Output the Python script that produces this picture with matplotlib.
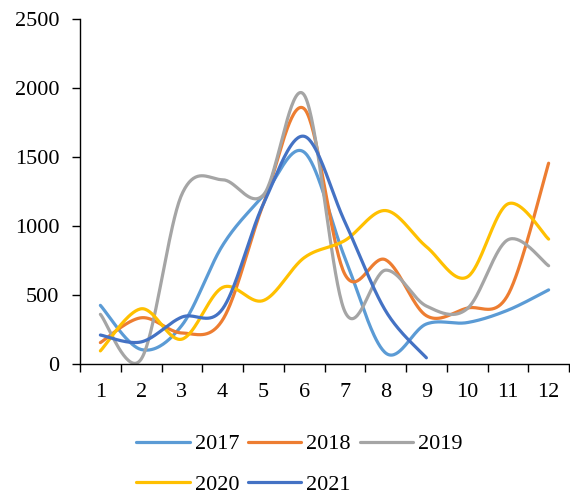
import numpy as np
import matplotlib
matplotlib.use("Agg")
from matplotlib import pyplot as plt

months = list(range(1, 13))

y2017 = [425, 105, 280, 860, 1220, 1535, 770, 80, 290, 300, 390, 537]
y2018 = [155, 335, 225, 320, 1160, 1850, 650, 755, 350, 405, 500, 1455]
y2019 = [360, 35, 1230, 1335, 1225, 1950, 380, 680, 420, 400, 900, 712]
y2020 = [95, 400, 180, 555, 460, 770, 895, 1112, 850, 630, 1160, 905]
y2021 = [210, 160, 340, 400, 1160, 1650, 1030, 385, 45]

series = [("2017", y2017, "#5B9BD5"),
          ("2018", y2018, "#ED7D31"),
          ("2019", y2019, "#A5A5A5"),
          ("2020", y2020, "#FFC000"),
          ("2021", y2021, "#4472C4")]


# smoothed line like a spreadsheet chart (cubic bezier, catmull-rom controls)
def smooth(xs, ys, n=40):
    xs = np.asarray(xs, float)
    ys = np.asarray(ys, float)
    px = np.concatenate([[xs[0]], xs, [xs[-1]]])
    py = np.concatenate([[ys[0]], ys, [ys[-1]]])
    t = np.linspace(0, 1, n)
    outx, outy = [], []
    for i in range(1, len(xs)):
        x0, x1, x2, x3 = px[i - 1], px[i], px[i + 1], px[i + 2]
        y0, y1, y2, y3 = py[i - 1], py[i], py[i + 1], py[i + 2]
        cx1, cy1 = x1 + (x2 - x0) / 6, y1 + (y2 - y0) / 6
        cx2, cy2 = x2 - (x3 - x1) / 6, y2 - (y3 - y1) / 6
        b0 = (1 - t) ** 3
        b1 = 3 * (1 - t) ** 2 * t
        b2 = 3 * (1 - t) * t ** 2
        b3 = t ** 3
        outx.append(b0 * x1 + b1 * cx1 + b2 * cx2 + b3 * x2)
        outy.append(b0 * y1 + b1 * cy1 + b2 * cy2 + b3 * y2)
    return np.concatenate(outx), np.concatenate(outy)


plt.rcParams["font.family"] = ["Liberation Serif", "DejaVu Serif"]
plt.rcParams["font.size"] = 16

fig = plt.figure(figsize=(5.7, 4.95), dpi=100)
ax = fig.add_axes([80 / 570, 131 / 495, 489 / 570, 345 / 495])

lines = {}
for name, ys, color in series:
    sx, sy = smooth(months[:len(ys)], ys)
    lines[name], = ax.plot(sx, sy, color=color, lw=2.3, label=name,
                           solid_capstyle="round")

ax.set_xlim(0.5, 12.5)
ax.set_ylim(0, 2500)
ax.set_yticks([0, 500, 1000, 1500, 2000, 2500])
ax.set_xticks(months)
ax.set_xticks(np.arange(0.5, 13, 1), minor=True)
ax.tick_params(axis="x", which="major", length=0, pad=14)
ax.tick_params(axis="x", which="minor", length=6, width=1)
ax.tick_params(axis="y", length=6, width=1, pad=9)

for s in ["top", "right"]:
    ax.spines[s].set_visible(False)
ax.spines["left"].set_linewidth(1)
ax.spines["bottom"].set_linewidth(1)

# legend fills by column, so order the entries to read across rows
order = ["2017", "2020", "2018", "2021", "2019"]
fig.legend([lines[k] for k in order], order, loc="center",
           bbox_to_anchor=(0.525, 0.062), ncol=3, frameon=False,
           fontsize=16, handlelength=2.4, handletextpad=0.22,
           columnspacing=0.4, labelspacing=0.9, borderpad=0)

fig.savefig("out.png", dpi=100)
